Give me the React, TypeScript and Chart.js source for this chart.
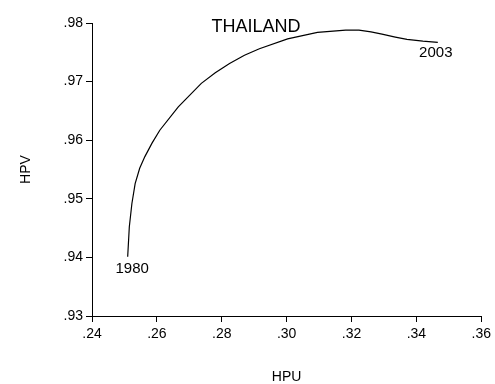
import React, { useEffect, useRef } from "react";
import { Chart, registerables } from "chart.js";

Chart.register(...registerables);

const years = [1980, 1981, 1982, 1983, 1984, 1985, 1986, 1987, 1988, 1989, 1990, 1991, 1992, 1993, 1994, 1995, 1996, 1997, 1998, 1999, 2000, 2001, 2002, 2003];
const hpu = [0.2510, 0.2515, 0.2523, 0.2533, 0.2547, 0.2563, 0.2585, 0.2609, 0.2666, 0.2737, 0.2780, 0.2824, 0.2870, 0.2916, 0.3003, 0.3095, 0.3182, 0.3223, 0.3260, 0.3294, 0.3335, 0.3371, 0.3420, 0.3466];
const hpv = [0.9401, 0.9452, 0.9492, 0.9526, 0.9552, 0.9572, 0.9595, 0.9617, 0.9657, 0.9697, 0.9715, 0.9731, 0.9745, 0.9756, 0.9773, 0.9784, 0.9788, 0.9788, 0.9785, 0.9781, 0.9776, 0.9772, 0.9769, 0.9767];
const xTicks = [0.24, 0.26, 0.28, 0.30, 0.32, 0.34, 0.36];
const yTicks = [0.93, 0.94, 0.95, 0.96, 0.97, 0.98];
const title = "THAILAND";
const xTitle = "HPU";
const yTitle = "HPV";

const FONT = "'Liberation Sans', Arial, sans-serif";
const fmt = (v: number) => v.toFixed(2).replace(/^0/, "");

const labelPlugin = {
  id: "labels",
  afterDatasetsDraw(chart: any) {
    const { ctx, chartArea, scales } = chart;
    const xs = scales.x;
    const ys = scales.y;
    ctx.save();
    ctx.fillStyle = "#000";
    ctx.textAlign = "center";
    ctx.textBaseline = "middle";
    ctx.font = `18px ${FONT}`;
    ctx.fillText(title, chartArea.left + 164, chartArea.top + 4);
    ctx.font = `15px ${FONT}`;
    const x0 = xs.getPixelForValue(hpu[0]);
    const y0 = ys.getPixelForValue(hpv[0]);
    ctx.fillText(String(years[0]), x0 + 4.5, y0 + 12);
    const n = hpu.length - 1;
    const x1 = xs.getPixelForValue(hpu[n]);
    const y1 = ys.getPixelForValue(hpv[n]);
    ctx.fillText(String(years[n]), x1 - 2, y1 + 10.5);
    ctx.restore();
  },
};

export default function App() {
  const ref = useRef<HTMLCanvasElement>(null);
  useEffect(() => {
    document.body.style.margin = "0";
    if (!ref.current) return;
    const chart = new Chart(ref.current, {
      type: "scatter",
      data: {
        datasets: [
          {
            data: hpu.map((x, i) => ({ x, y: hpv[i] })),
            showLine: true,
            borderColor: "#000",
            borderWidth: 1.2,
            pointRadius: 0,
            tension: 0,
            fill: false,
          },
        ],
      },
      options: {
        responsive: false,
        animation: false,
        events: [],
        layout: { padding: { left: 0, top: 23, right: 12, bottom: 0 } },
        plugins: { legend: { display: false }, tooltip: { enabled: false } },
        scales: {
          x: {
            type: "linear",
            min: xTicks[0],
            max: xTicks[xTicks.length - 1],
            afterBuildTicks: (s: any) => {
              s.ticks = xTicks.map((v) => ({ value: v }));
            },
            afterFit: (s: any) => {
              s.height = 68;
            },
            ticks: {
              color: "#000",
              font: { family: FONT, size: 14 },
              padding: 4,
              maxRotation: 0,
              callback: (v: any) => fmt(Number(v)),
            },
            grid: { display: true, drawOnChartArea: false, drawTicks: true, tickLength: 6, color: "#000", lineWidth: 1 },
            border: { display: true, color: "#000", width: 1 },
            title: { display: true, text: xTitle, color: "#000", font: { family: FONT, size: 14 }, padding: { top: 0, bottom: -2 } },
          },
          y: {
            type: "linear",
            min: yTicks[0],
            max: yTicks[yTicks.length - 1],
            afterBuildTicks: (s: any) => {
              s.ticks = yTicks.map((v) => ({ value: v }));
            },
            afterFit: (s: any) => {
              s.width = 92;
            },
            ticks: {
              color: "#000",
              font: { family: FONT, size: 14 },
              padding: 3,
              callback: (v: any) => fmt(Number(v)),
            },
            grid: { display: true, drawOnChartArea: false, drawTicks: true, tickLength: 6, color: "#000", lineWidth: 1 },
            border: { display: true, color: "#000", width: 1 },
            title: { display: true, text: yTitle, color: "#000", font: { family: FONT, size: 14 }, padding: { top: 18, bottom: 0 } },
          },
        },
      },
      plugins: [labelPlugin],
    });
    return () => chart.destroy();
  }, []);
  return <canvas ref={ref} width={495} height={384} style={{ display: "block" }} />;
}
